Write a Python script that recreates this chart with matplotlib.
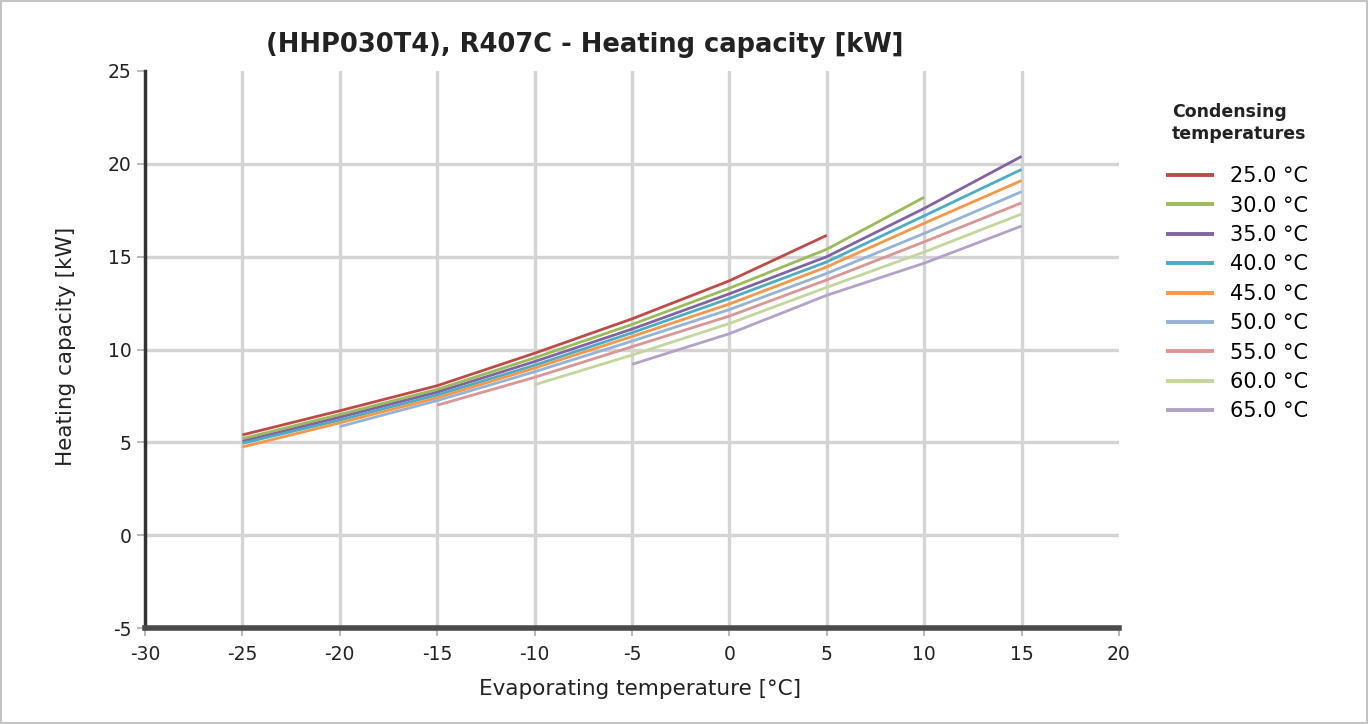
"""Heating capacity vs evaporating temperature, HHP030T4 / R407C."""

import matplotlib

matplotlib.use("Agg")
import matplotlib.pyplot as plt
from matplotlib.patches import Rectangle

EVAP_T = [-25, -20, -15, -10, -5, 0, 5, 10, 15]

COND_LABELS = ["25.0 °C", "30.0 °C", "35.0 °C", "40.0 °C", "45.0 °C",
               "50.0 °C", "55.0 °C", "60.0 °C", "65.0 °C"]

# None = no data at that evaporating temperature
CAP_25 = [5.4, 6.7, 8.05, 9.8, 11.65, 13.7, 16.15, None, None]
CAP_30 = [5.2, 6.5, 7.85, 9.55, 11.35, 13.3, 15.4, 18.2, None]
CAP_35 = [5.05, 6.35, 7.7, 9.35, 11.1, 13.0, 15.0, 17.6, 20.4]
CAP_40 = [4.95, 6.2, 7.55, 9.15, 10.9, 12.75, 14.72, 17.2, 19.7]
CAP_45 = [4.75, 6.05, 7.4, 9.0, 10.7, 12.45, 14.45, 16.8, 19.1]
CAP_50 = [None, 5.85, 7.25, 8.8, 10.45, 12.15, 14.1, 16.25, 18.5]
CAP_55 = [None, None, 7.0, 8.5, 10.15, 11.8, 13.75, 15.8, 17.9]
CAP_60 = [None, None, None, 8.1, 9.7, 11.4, 13.35, 15.25, 17.3]
CAP_65 = [None, None, None, None, 9.2, 10.85, 12.92, 14.65, 16.65]

SERIES = [CAP_25, CAP_30, CAP_35, CAP_40, CAP_45, CAP_50, CAP_55, CAP_60, CAP_65]
COLORS = ["#BE4B48", "#9BBB59", "#8064A2", "#4BACC6", "#F79646",
          "#95B3D7", "#D99694", "#C3D69B", "#B3A2C7"]

GRID = "#D4D4D4"
TEXT = "#222222"

W, H = 1368, 724

plt.rcParams["axes.unicode_minus"] = False


def fx(px):
    return px / W


def fy(py):
    return 1 - py / H


fig = plt.figure(figsize=(13.68, 7.24), dpi=100)
fig.patch.set_facecolor("white")
fig.patches.append(Rectangle((0.001, 0.001), 0.998, 0.997, transform=fig.transFigure,
                             fill=False, edgecolor="#C4C4C4", linewidth=1.5))

ax = fig.add_axes([fx(145), fy(628), fx(1119) - fx(145), fy(71) - fy(628)])
ax.set_xlim(-30, 20)
ax.set_ylim(-5, 25)

for xv in range(-25, 16, 5):
    ax.axvline(xv, color=GRID, linewidth=2.4, zorder=0)
for yv in range(0, 21, 5):
    ax.axhline(yv, color=GRID, linewidth=2.4, zorder=0)

for vals, col, lab in zip(SERIES, COLORS, COND_LABELS):
    xs = [t for t, v in zip(EVAP_T, vals) if v is not None]
    ys = [v for v in vals if v is not None]
    ax.plot(xs, ys, color=col, linewidth=2.0, label=lab, zorder=3,
            solid_capstyle="butt")

for side in ("top", "right"):
    ax.spines[side].set_visible(False)
ax.spines["left"].set_color("#333333")
ax.spines["left"].set_linewidth(2.5)
ax.spines["bottom"].set_color("#4A4A4A")
ax.spines["bottom"].set_linewidth(4)

ax.set_xticks(range(-30, 21, 5))
ax.set_yticks(range(-5, 26, 5))
ax.tick_params(axis="both", colors="#BBBBBB", labelcolor=TEXT, labelsize=13.5,
               length=6, width=1.5)
ax.tick_params(axis="x", pad=6)

fig.text(fx(585), fy(45), "(HHP030T4), R407C - Heating capacity [kW]",
         ha="center", va="center", fontsize=18.5, fontweight="bold", color=TEXT)
fig.text(fx(66), fy(346), "Heating capacity [kW]", rotation=90,
         ha="center", va="center", fontsize=15.5, color=TEXT)
fig.text(fx(640), fy(689), "Evaporating temperature [°C]",
         ha="center", va="center", fontsize=15.5, color=TEXT)

fig.text(fx(1172), fy(123), "Condensing\ntemperatures", ha="left",
         va="center", fontsize=12.5, fontweight="bold", color=TEXT,
         linespacing=1.35)
handles, labels = ax.get_legend_handles_labels()
leg = fig.legend(handles, labels, loc="upper left",
                 bbox_to_anchor=(fx(1158), fy(158)), frameon=False,
                 fontsize=15, handlelength=2.3, handletextpad=0.75,
                 labelspacing=0.45, borderaxespad=0)
for line in leg.get_lines():
    line.set_linewidth(2.8)

fig.savefig("out.png", dpi=100, facecolor="white")
